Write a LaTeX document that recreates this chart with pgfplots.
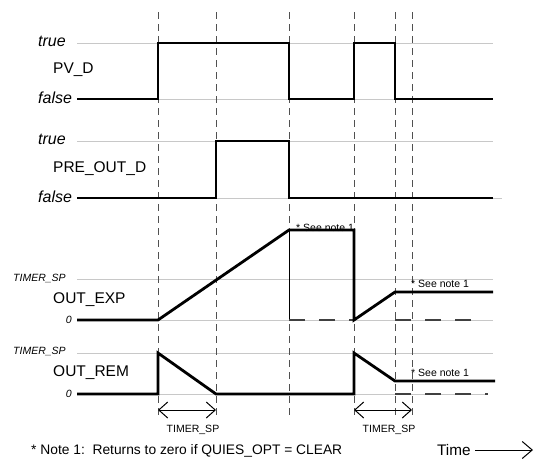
\documentclass[border=0pt]{standalone}
\usepackage{fontspec}
\setmainfont{Liberation Sans}
\usepackage{pgfplots}
\pgfplotsset{compat=1.18}
\usetikzlibrary{arrows.meta}
\definecolor{gridgray}{RGB}{200,200,200}
\definecolor{dashgray}{RGB}{80,80,80}

\begin{document}
\begin{tikzpicture}[
    sig/.style={black, line width=2.8pt, line join=miter},
    grd/.style={gridgray, line width=1pt},
    vdash/.style={dashgray, line width=0.9pt, dash pattern=on 7pt off 5pt},
    zdash/.style={black!75, line width=1.3pt, dash pattern=on 16pt off 14pt},
    big/.style={font=\fontsize{15.5}{17}\selectfont, inner sep=0pt},
    tf/.style={font=\fontsize{16}{18}\selectfont\itshape, inner sep=0pt},
    small/.style={font=\fontsize{10.5}{12}\selectfont, inner sep=0pt},
    smalli/.style={font=\fontsize{10.5}{12}\selectfont\itshape, inner sep=0pt},
    dblarr/.style={black, line width=1pt, {Straight Barb[length=9pt,width=16pt]}-{Straight Barb[length=9pt,width=16pt]}},
  ]
\begin{axis}[
    scale only axis,
    width=536pt, height=464pt,
    xmin=0, xmax=536, ymin=0, ymax=464,
    y dir=reverse,
    hide axis,
    clip=false,
    no markers,
  ]
  % keep the whole canvas
  \path (rel axis cs:0,0) rectangle (rel axis cs:1,1);

  % grey level lines
  \addplot[grd] coordinates {(77,43) (493,43)};
  \addplot[grd] coordinates {(77,99) (493,99)};
  \addplot[grd] coordinates {(77,141) (493,141)};
  \addplot[grd] coordinates {(77,198) (502,198)};
  \addplot[grd] coordinates {(77,279) (493,279)};
  \addplot[grd] coordinates {(77,320) (493,320)};
  \addplot[grd] coordinates {(77,353) (493,353)};
  \addplot[grd] coordinates {(77,394) (488,394)};

  % event lines
  \addplot[vdash] coordinates {(158,12) (158,417)};
  \addplot[vdash] coordinates {(216,12) (216,417)};
  \addplot[vdash] coordinates {(289,12) (289,417)};
  \addplot[vdash] coordinates {(354,12) (354,417)};
  \addplot[vdash] coordinates {(395,12) (395,417)};
  \addplot[vdash] coordinates {(412,12) (412,417)};
  \addplot[black, line width=0.8pt] coordinates {(289,230) (289,320)};

  % cleared outputs
  \addplot[zdash] coordinates {(289,320) (354,320)};
  \addplot[zdash] coordinates {(395,320) (480,320)};
  \addplot[zdash] coordinates {(395,394) (488,394)};

  % notes
  \node[small, anchor=base west] at (axis cs:296,231) {* See note 1};
  \node[small, anchor=west] at (axis cs:411,284) {* See note 1};
  \node[small, anchor=west] at (axis cs:411,373) {* See note 1};

  % signals
  \addplot[sig] coordinates {(77,99) (158,99) (158,43) (289,43) (289,99)
    (354,99) (354,43) (395,43) (395,99) (493,99)};
  \addplot[sig] coordinates {(77,198) (216,198) (216,141) (289,141)
    (289,198) (493,198)};
  \addplot[sig] coordinates {(77,320) (158,320) (289,230) (354,230)
    (354,320) (395,292) (493,292)};
  \addplot[sig] coordinates {(77,394) (158,394) (158,353) (216,394)
    (354,394) (354,353) (395,381) (495,381)};

  % timer arrows
  \addplot[dblarr] coordinates {(158,410) (216,410)};
  \addplot[dblarr] coordinates {(354,410) (412,410)};
  \addplot[black, line width=1pt, -{Straight Barb[length=10pt,width=17pt]}]
    coordinates {(475,450) (533,450)};

  % labels
  \node[tf, anchor=west] at (axis cs:38,41) {true};
  \node[tf, anchor=west] at (axis cs:38,98) {false};
  \node[tf, anchor=west] at (axis cs:38,139) {true};
  \node[tf, anchor=west] at (axis cs:38,197) {false};
  \node[big, anchor=west] at (axis cs:53,70) {PV\_D};
  \node[big, anchor=west] at (axis cs:53,169) {PRE\_OUT\_D};
  \node[big, anchor=west] at (axis cs:53,300) {OUT\_EXP};
  \node[big, anchor=west] at (axis cs:53,373) {OUT\_REM};
  \node[smalli, anchor=west] at (axis cs:13,278) {TIMER\_SP};
  \node[smalli, anchor=west] at (axis cs:13,351) {TIMER\_SP};
  \node[smalli, anchor=east] at (axis cs:72,320) {0};
  \node[smalli, anchor=east] at (axis cs:72,394) {0};
  \node[small] at (axis cs:193,430) {TIMER\_SP};
  \node[small] at (axis cs:389,430) {TIMER\_SP};
  \node[font=\fontsize{13.8}{16}\selectfont, inner sep=0pt, anchor=west]
    at (axis cs:31,451) {* Note 1:\ \ Returns to zero if QUIES\_OPT = CLEAR};
  \node[font=\fontsize{15.3}{17}\selectfont, inner sep=0pt, anchor=west]
    at (axis cs:437,450) {Time};
\end{axis}
\end{tikzpicture}
\end{document}
